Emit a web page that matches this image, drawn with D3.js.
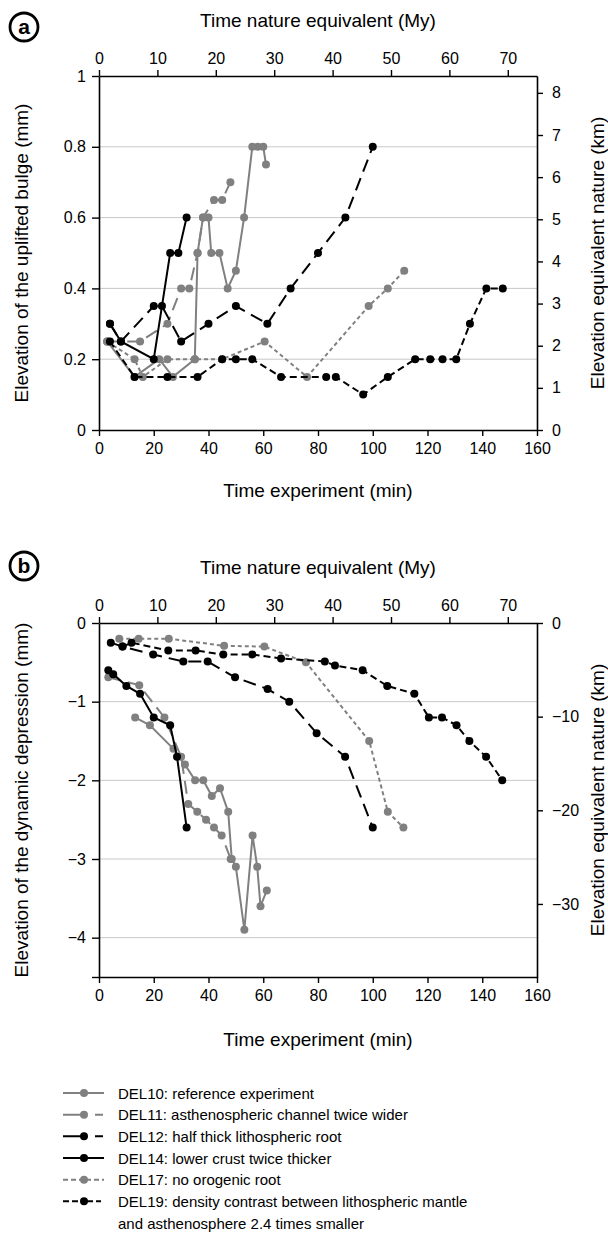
<!DOCTYPE html>
<html>
<head>
<meta charset="utf-8">
<script src="https://cdn.jsdelivr.net/npm/d3@7"></script>
<style>
  body { margin: 0; background: #fff; }
  text { font-family: "Liberation Sans", Arial, Helvetica, sans-serif; }
</style>
</head>
<body>
<div id="chart"></div>
<script>
// ---- tick labels ----
var timeTicks = [0, 20, 40, 60, 80, 100, 120, 140, 160];
var natureTicks = [0, 10, 20, 30, 40, 50, 60, 70];
var bulgeTicks = [0, 0.2, 0.4, 0.6, 0.8, 1];
var bulgeGrid = [0.2, 0.4, 0.6, 0.8];
var bulgeKmTicks = [0, 1, 2, 3, 4, 5, 6, 7, 8];
var depTicks = [0, -1, -2, -3, -4, -4.5];
var depGrid = [-1, -2, -3, -4];
var depKmTicks = [0, -10, -20, -30];

// ---- series ----
var seriesNames = ["DEL10", "DEL11", "DEL12", "DEL14", "DEL17", "DEL19"];
var legendLabels = [
  "DEL10: reference experiment",
  "DEL11: asthenospheric channel twice wider",
  "DEL12: half thick lithospheric root",
  "DEL14: lower crust twice thicker",
  "DEL17: no orogenic root",
  "DEL19: density contrast between lithospheric mantle",
  "and asthenosphere 2.4 times smaller"
];

// panel a : elevation of the uplifted bulge (mm) vs time (min)
var bulgeDEL10 = [[3, 0.25], [13, 0.15], [22, 0.2], [27, 0.15], [35, 0.2], [36, 0.5], [38, 0.6], [40, 0.6], [41, 0.5], [44, 0.5], [47, 0.4], [50, 0.45], [53, 0.6], [56, 0.8], [58, 0.8], [60, 0.8], [61, 0.75]];
var bulgeDEL11 = [[3, 0.25], [15, 0.25], [25, 0.3], [30, 0.4], [33, 0.4], [36, 0.5], [38, 0.6], [42, 0.65], [45, 0.65], [48, 0.7]];
var bulgeDEL12 = [[4, 0.3], [8, 0.25], [20, 0.35], [23, 0.35], [30, 0.25], [40, 0.3], [50, 0.35], [61.5, 0.3], [70, 0.4], [80, 0.5], [90, 0.6], [100, 0.8]];
var bulgeDEL14 = [[4, 0.3], [8, 0.25], [20, 0.2], [26, 0.5], [29, 0.5], [32, 0.6]];
var bulgeDEL17 = [[3, 0.25], [13, 0.2], [16, 0.15], [25, 0.2], [35, 0.2], [45, 0.2], [60.5, 0.25], [76, 0.15], [98.5, 0.35], [105.5, 0.4], [111.5, 0.45]];
var bulgeDEL19 = [[4, 0.25], [13, 0.15], [25, 0.15], [36, 0.15], [45, 0.2], [50, 0.2], [56, 0.2], [66.5, 0.15], [83, 0.15], [86.5, 0.15], [96.5, 0.1], [105.5, 0.15], [115.5, 0.2], [121, 0.2], [125.5, 0.2], [130.5, 0.2], [135.5, 0.3], [141.5, 0.4], [147.5, 0.4]];

// panel b : elevation of the dynamic depression (mm) vs time (min)
var depDEL10 = [[13.2, -1.2], [18.6, -1.3], [27.2, -1.6], [31.4, -1.8], [35.1, -2.0], [38.1, -2.0], [41.2, -2.2], [44.2, -2.1], [47.2, -2.4], [48.5, -3.0], [50, -3.1], [53.1, -3.9], [56.1, -2.7], [57.8, -3.1], [59, -3.6], [61.3, -3.4]];
var depDEL11 = [[3.4, -0.69], [14.7, -0.79], [23.9, -1.2], [30, -1.7], [32.6, -2.3], [35.9, -2.4], [39.1, -2.5], [42, -2.6], [44.8, -2.7], [48.1, -3.0]];
var depDEL12 = [[4.3, -0.25], [8.6, -0.3], [19.8, -0.4], [30.8, -0.49], [39.7, -0.49], [49.7, -0.69], [61.6, -0.84], [69.5, -1.0], [79.5, -1.4], [89.9, -1.7], [100, -2.6]];
var depDEL14 = [[3.4, -0.6], [5.2, -0.65], [10, -0.8], [15, -0.9], [20, -1.2], [26, -1.3], [28.5, -1.7], [32, -2.6]];
var depDEL17 = [[7.4, -0.2], [14.5, -0.2], [25.5, -0.2], [45.7, -0.29], [60.4, -0.3], [75.6, -0.5], [98.7, -1.5], [105.5, -2.4], [111.2, -2.6]];
var depDEL19 = [[8.6, -0.3], [11.9, -0.25], [25.3, -0.35], [35.3, -0.35], [45.4, -0.4], [56, -0.4], [66.5, -0.45], [82.5, -0.49], [86.2, -0.54], [96.3, -0.6], [105.3, -0.8], [115.2, -0.9], [120.5, -1.2], [125.3, -1.2], [130.6, -1.3], [135.3, -1.5], [141.4, -1.7], [147.3, -2.0]];

// ---- styles (kept apart from data) ----
var styles = {
  DEL10: { color: "#808080", dash: null, legendDash: null },
  DEL11: { color: "#808080", dash: "13,7", legendDash: "21,11,8,20" },
  DEL12: { color: "#000000", dash: "13,7", legendDash: "21,11,8,20" },
  DEL14: { color: "#000000", dash: null, legendDash: null },
  DEL17: { color: "#808080", dash: "4,3", legendDash: "5,3,5,3,12,3,5,3,3" },
  DEL19: { color: "#000000", dash: "7,4", legendDash: "6,3,6,3,12,3,5,3,3" }
};

var W = 608, H = 1233;
var left = 99, right = 537;

var svg = d3.select("#chart").append("svg")
  .attr("width", W)
  .attr("height", H);

svg.append("rect").attr("width", W).attr("height", H).attr("fill", "white");

var x = d3.scaleLinear().domain([0, 160]).range([left, right]);
var xNature = d3.scaleLinear().domain([0, 75]).range([left, right]);

function styleAxis(g) {
  g.attr("font-size", 16).attr("font-family", "Liberation Sans, Arial, sans-serif");
  g.selectAll("path.domain").attr("stroke", "#000").attr("stroke-width", 1.6);
  g.selectAll(".tick line").attr("stroke", "#000").attr("stroke-width", 1.4);
  g.selectAll(".tick text").attr("fill", "#000");
}

function drawPanel(p) {
  var y = d3.scaleLinear().domain(p.yDomain).range([p.bottom, p.top]);
  var yKm = d3.scaleLinear().domain(p.kmDomain).range([p.bottom, p.top]);
  var g = svg.append("g");

  // grid
  g.selectAll("line.grid").data(p.grid).enter().append("line")
    .attr("x1", left).attr("x2", right)
    .attr("y1", function (d) { return y(d); })
    .attr("y2", function (d) { return y(d); })
    .attr("stroke", "#c8c8c8").attr("stroke-width", 1);

  // series lines + markers
  var line = d3.line()
    .x(function (d) { return x(d[0]); })
    .y(function (d) { return y(d[1]); });

  var order = [0, 1, 4, 2, 5, 3];
  order.forEach(function (i) {
    var name = seriesNames[i];
    var st = styles[name];
    var pts = p.data[i];
    g.append("path").datum(pts)
      .attr("d", line)
      .attr("fill", "none")
      .attr("stroke", st.color)
      .attr("stroke-width", 2)
      .attr("stroke-dasharray", st.dash);
    g.selectAll("circle." + name).data(pts).enter().append("circle")
      .attr("class", name)
      .attr("cx", function (d) { return x(d[0]); })
      .attr("cy", function (d) { return y(d[1]); })
      .attr("r", 4)
      .attr("fill", st.color);
  });

  // axes
  g.append("g").attr("transform", "translate(0," + p.bottom + ")")
    .call(d3.axisBottom(x).tickValues(timeTicks).tickSize(6).tickSizeOuter(0).tickPadding(7))
    .call(styleAxis);
  g.append("g").attr("transform", "translate(0," + p.top + ")")
    .call(d3.axisTop(xNature).tickValues(natureTicks).tickSize(6).tickSizeOuter(0).tickPadding(6))
    .call(styleAxis);
  g.append("g").attr("transform", "translate(" + left + ",0)")
    .call(d3.axisLeft(y).tickValues(p.yTicks).tickSize(7).tickSizeOuter(0).tickPadding(6)
      .tickFormat(function (d) { return d === -4.5 ? "" : d3.format("")(d); }))
    .call(styleAxis);
  g.append("g").attr("transform", "translate(" + right + ",0)")
    .call(d3.axisRight(yKm).tickValues(p.kmTicks).tickSize(6).tickSizeOuter(0).tickPadding(9))
    .call(styleAxis);

  // titles
  var midX = (left + right) / 2;
  var midY = (p.top + p.bottom) / 2;
  g.append("text").attr("x", midX).attr("y", p.top - 49)
    .attr("text-anchor", "middle").attr("font-size", 19).text("Time nature equivalent (My)");
  g.append("text").attr("x", midX).attr("y", p.bottom + p.xTitleGap)
    .attr("text-anchor", "middle").attr("font-size", 19).text("Time experiment (min)");
  g.append("text").attr("transform", "translate(28," + midY + ") rotate(-90)")
    .attr("text-anchor", "middle").attr("font-size", 19).text(p.yTitle);
  g.append("text").attr("transform", "translate(604," + midY + ") rotate(-90)")
    .attr("text-anchor", "middle").attr("font-size", 19).text("Elevation equivalent nature (km)");

  // panel letter
  g.append("circle").attr("cx", 24).attr("cy", p.letterY).attr("r", 14)
    .attr("fill", "none").attr("stroke", "#000").attr("stroke-width", 2.8);
  g.append("text").attr("x", 24).attr("y", p.letterY + 7)
    .attr("text-anchor", "middle").attr("font-size", 21).attr("font-weight", "bold").text(p.letter);
}

drawPanel({
  top: 76, bottom: 430, letterY: 27, xTitleGap: 67,
  yDomain: [0, 1], yTicks: bulgeTicks, grid: bulgeGrid,
  kmDomain: [0, 8.4], kmTicks: bulgeKmTicks,
  yTitle: "Elevation of the uplifted bulge (mm)",
  letter: "a",
  data: [bulgeDEL10, bulgeDEL11, bulgeDEL12, bulgeDEL14, bulgeDEL17, bulgeDEL19]
});

drawPanel({
  top: 623, bottom: 977, letterY: 566, xTitleGap: 69,
  yDomain: [-4.5, 0], yTicks: depTicks, grid: depGrid,
  kmDomain: [-37.8, 0], kmTicks: depKmTicks,
  yTitle: "Elevation of the dynamic depression (mm)",
  letter: "b",
  data: [depDEL10, depDEL11, depDEL12, depDEL14, depDEL17, depDEL19]
});

// ---- legend ----
var legend = svg.append("g");
var rowY = d3.scaleLinear().domain([0, 6]).range([1093, 1223]);

seriesNames.forEach(function (name, i) {
  var st = styles[name];
  var cy = rowY(i);
  legend.append("line")
    .attr("x1", 63).attr("x2", 104).attr("y1", cy).attr("y2", cy)
    .attr("stroke", st.color).attr("stroke-width", 2)
    .attr("stroke-dasharray", st.legendDash);
  legend.append("circle").attr("cx", 84).attr("cy", cy).attr("r", 4).attr("fill", st.color);
});

legend.selectAll("text").data(legendLabels).enter().append("text")
  .attr("x", 118)
  .attr("y", function (d, i) { return rowY(i) + 5.5; })
  .attr("font-size", 15)
  .attr("fill", "#000")
  .text(function (d) { return d; });
</script>
</body>
</html>
